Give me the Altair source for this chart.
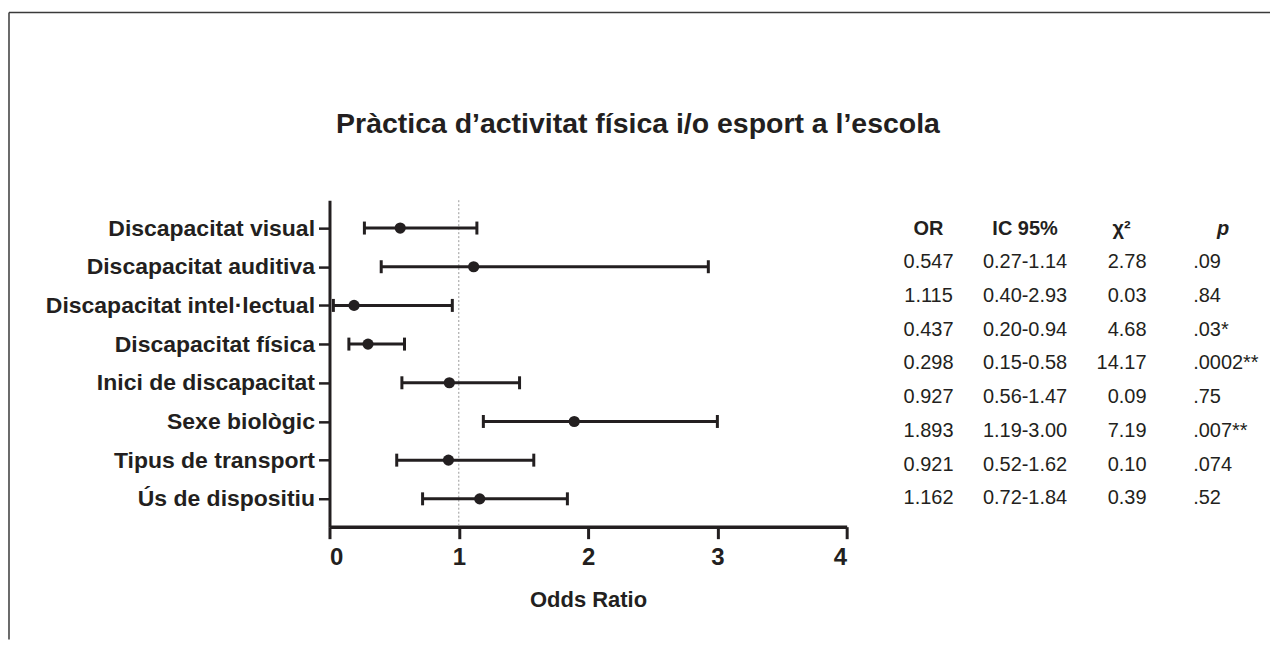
import altair as alt
import pandas as pd

# ---------------- data ----------------
categories = [
    "Discapacitat visual",
    "Discapacitat auditiva",
    "Discapacitat intel·lectual",
    "Discapacitat física",
    "Inici de discapacitat",
    "Sexe biològic",
    "Tipus de transport",
    "Ús de dispositiu",
]
odds = [0.547, 1.115, 0.19, 0.298, 0.927, 1.893, 0.92, 1.162]
ci_low = [0.27, 0.40, 0.03, 0.15, 0.56, 1.19, 0.52, 0.72]
ci_high = [1.14, 2.93, 0.95, 0.58, 1.47, 3.00, 1.58, 1.84]

headers = ["OR", "IC 95%", "χ²", "p"]
table_or = ["0.547", "1.115", "0.437", "0.298", "0.927", "1.893", "0.921", "1.162"]
table_ic = ["0.27-1.14", "0.40-2.93", "0.20-0.94", "0.15-0.58", "0.56-1.47",
            "1.19-3.00", "0.52-1.62", "0.72-1.84"]
table_chi = ["2.78", "0.03", "4.68", "14.17", "0.09", "7.19", "0.10", "0.39"]
table_p = [".09", ".84", ".03*", ".0002**", ".75", ".007**", ".074", ".52"]

title_text = "Pràctica d’activitat física i/o esport a l’escola"

INK = "#231f20"
FONT = "Liberation Sans"

# ---------------- forest plot ----------------
fdf = pd.DataFrame({"cat": categories, "or": odds, "lo": ci_low, "hi": ci_high})

y_enc = alt.Y(
    "cat:N",
    scale=alt.Scale(type="point", domain=categories, padding=0.72),
    axis=alt.Axis(
        title=None, labelFontSize=23, labelFontWeight="bold", labelColor=INK,
        labelFont=FONT, labelLimit=500, tickSize=11, tickWidth=2.5, tickColor=INK,
        labelPadding=4, domainWidth=3, domainColor=INK, grid=False,
    ),
)

x_scale = alt.Scale(domain=[0, 4], nice=False)
x_axis = alt.Axis(
    values=[0, 1, 2, 3, 4], format="d", grid=False,
    labelFontSize=24, labelFontWeight="bold", labelColor=INK, labelFont=FONT,
    labelPadding=7, tickSize=12, tickWidth=3, tickColor=INK,
    domainWidth=3.5, domainColor=INK,
    titleFontSize=22, titleFontWeight="bold", titleColor=INK, titleFont=FONT,
    titlePadding=20,
)

def xq(field):
    return alt.X(f"{field}:Q", scale=x_scale, axis=x_axis, title="Odds Ratio")

ref_line = alt.Chart(pd.DataFrame({"v": [1]})).mark_rule(
    color="#9a9a9a", strokeDash=[2, 2], strokeWidth=1
).encode(x=alt.X("v:Q", scale=x_scale, axis=x_axis, title="Odds Ratio"))

whisk = alt.Chart(fdf).mark_rule(color=INK, strokeWidth=3).encode(
    y=y_enc, x=xq("lo"), x2="hi"
)
cap_lo = alt.Chart(fdf).mark_tick(color=INK, size=13, thickness=3, opacity=1).encode(
    y=y_enc, x=xq("lo")
)
cap_hi = alt.Chart(fdf).mark_tick(color=INK, size=13, thickness=3, opacity=1).encode(
    y=y_enc, x=xq("hi")
)
pts = alt.Chart(fdf).mark_circle(color=INK, size=125, opacity=1).encode(
    y=y_enc, x=xq("or")
)

forest = alt.layer(ref_line, whisk, cap_lo, cap_hi, pts).properties(
    width=518,
    height=327,
    title=alt.TitleParams(
        title_text, fontSize=28.5, fontWeight="bold", color=INK, font=FONT,
        frame="group", anchor="middle", dx=50, offset=61,
    ),
)

# ---------------- table ----------------
col_keys = ["OR", "IC", "CHI", "P"]
row_keys = ["h"] + [f"r{i}" for i in range(len(table_or))]
recs = []
for k, h in zip(col_keys, headers):
    recs.append({"col": k, "row": "h", "text": h, "kind": "header"})
for i in range(len(table_or)):
    for k, vals in zip(col_keys, [table_or, table_ic, table_chi, table_p]):
        recs.append({"col": k, "row": f"r{i}", "text": vals[i], "kind": "value"})
tdf = pd.DataFrame(recs)

tx = alt.X("col:N", scale=alt.Scale(type="point", domain=col_keys, padding=0.517), axis=None)
ty = alt.Y("row:N", scale=alt.Scale(type="point", domain=row_keys, padding=0.845), axis=None)
tbase = alt.Chart(tdf).encode(x=tx, y=ty, text="text:N")

def tlayer(expr, **kw):
    return tbase.transform_filter(expr).mark_text(
        fontSize=20, color=INK, font=FONT, baseline="middle", **kw
    )

t_head = tlayer("datum.kind == 'header' && datum.col != 'P'", fontWeight="bold", align="center")
t_head_p = tlayer("datum.kind == 'header' && datum.col == 'P'", fontWeight="bold",
                  fontStyle="italic", align="center", dx=5)
t_vals = tlayer("datum.kind == 'value' && (datum.col == 'OR' || datum.col == 'IC')", align="center")
t_chi = tlayer("datum.kind == 'value' && datum.col == 'CHI'", align="right", dx=25)
t_p = tlayer("datum.kind == 'value' && datum.col == 'P'", align="left", dx=-25)

# decorative outer frame (top and left border of the figure)
one = pd.DataFrame({"k": [0]})
frame_top = alt.Chart(one).mark_rule(color="#3a3a3a", strokeWidth=1.5).encode(
    x=alt.value(-871), x2=alt.value(392), y=alt.value(-188)
)
frame_left = alt.Chart(one).mark_rule(color="#3a3a3a", strokeWidth=1.5).encode(
    x=alt.value(-871), y=alt.value(-188), y2=alt.value(440)
)

table = alt.layer(t_head, t_head_p, t_vals, t_chi, t_p, frame_top, frame_left).properties(
    width=390, height=327
)

chart = alt.hconcat(forest, table, spacing=32, bounds="flush").properties(
    padding={"left": 0, "top": 3, "right": 0, "bottom": 0}
).configure(font=FONT, background="white").configure_view(strokeWidth=0, stroke="transparent")

chart.save("out.html", embed_options={"renderer": "svg", "actions": False})
